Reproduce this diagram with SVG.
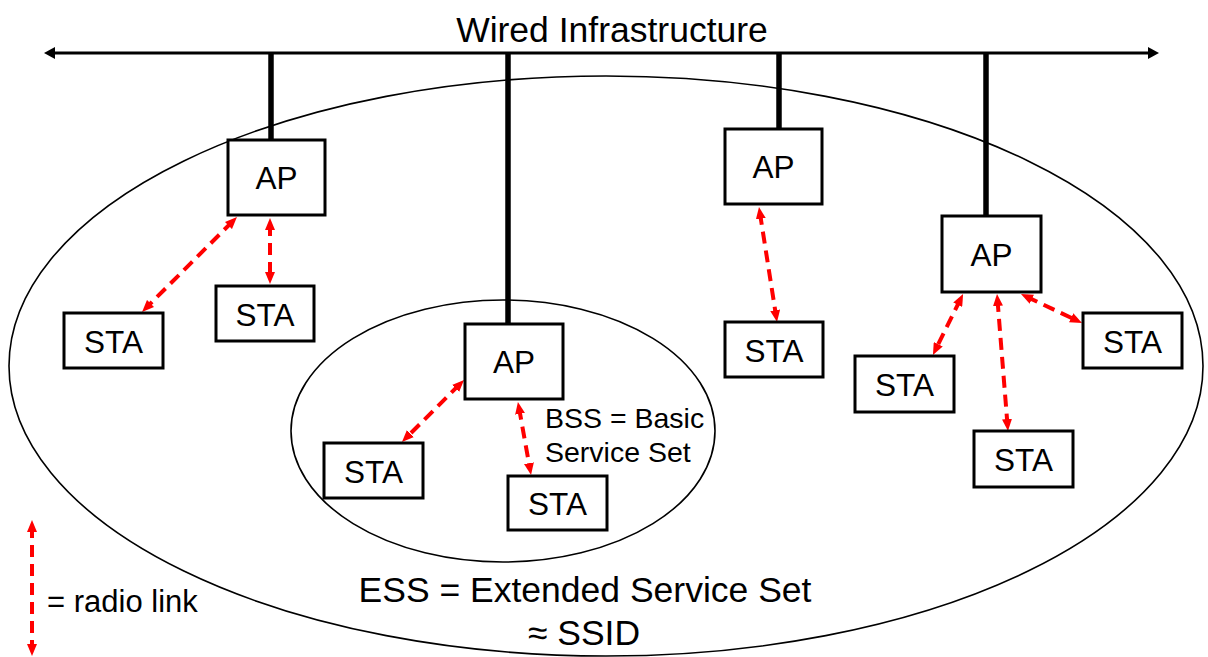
<svg xmlns="http://www.w3.org/2000/svg" width="1208" height="657" viewBox="0 0 1208 657">
<style>
text{font-family:"Liberation Sans",Arial,sans-serif;fill:#000}
.box{fill:#fff;stroke:#000;stroke-width:3}
.lbl{font-size:31.5px;text-anchor:middle}
.ell{fill:none;stroke:#000;stroke-width:1.6}
.wire{stroke:#000;stroke-width:5.5;fill:none}
.radio{stroke:#ff0000;stroke-width:4;stroke-dasharray:12,7;fill:none;marker-start:url(#rh);marker-end:url(#rh)}
</style>
<defs>
<marker id="rh" markerUnits="userSpaceOnUse" markerWidth="12" markerHeight="10" refX="6" refY="5" orient="auto-start-reverse" viewBox="0 0 12 10">
<path d="M0,0 L12,5 L0,10 z" fill="#ff0000"/>
</marker>
<marker id="bh" markerUnits="userSpaceOnUse" markerWidth="11" markerHeight="12" refX="5" refY="6" orient="auto-start-reverse" viewBox="0 0 11 12">
<path d="M0,0 L11,6 L0,12 z" fill="#000"/>
</marker>
</defs>
<rect width="1208" height="657" fill="#fff"/>
<g id="ess">
<ellipse class="ell" cx="606" cy="366" rx="597" ry="290"/>
<text x="585" y="602" font-size="35.5" text-anchor="middle">ESS = Extended Service Set</text>
<text x="584" y="645" font-size="35.5" text-anchor="middle">≈ SSID</text>
</g>
<g id="bss">
<ellipse class="ell" cx="503" cy="431" rx="212" ry="131"/>
<text x="545" y="428" font-size="28.5">BSS = Basic</text>
<text x="545" y="462" font-size="28.5">Service Set</text>
</g>
<g id="wired">
<text x="612" y="42" font-size="35.5" text-anchor="middle">Wired Infrastructure</text>
<line x1="50" y1="53" x2="1153" y2="53" stroke="#000" stroke-width="3" marker-start="url(#bh)" marker-end="url(#bh)"/>
</g>
<g id="connectors">
<line class="wire" x1="271" y1="53" x2="271" y2="140"/>
<line class="wire" x1="508" y1="53" x2="508" y2="324"/>
<line class="wire" x1="779" y1="53" x2="779" y2="129"/>
<line class="wire" x1="986" y1="53" x2="986" y2="216"/>
<line class="radio" x1="232.7" y1="221.3" x2="146.3" y2="307.7"/>
<line class="radio" x1="270" y1="224" x2="270" y2="278"/>
<line class="radio" x1="759.9" y1="212.9" x2="776.1" y2="316.1"/>
<line class="radio" x1="459.8" y1="384.2" x2="406.2" y2="437.8"/>
<line class="radio" x1="519" y1="407.9" x2="530" y2="469.1"/>
<line class="radio" x1="960.4" y1="299.4" x2="935.6" y2="349.6"/>
<line class="radio" x1="997.5" y1="300" x2="1007.5" y2="425"/>
<line class="radio" x1="1026.4" y1="296.6" x2="1076.6" y2="320.4"/>
</g>
<g id="ap1"><rect class="box" x="228" y="140" width="97" height="75"/><text class="lbl" x="276.5" y="189">AP</text></g>
<g id="ap2"><rect class="box" x="465" y="324" width="98" height="75"/><text class="lbl" x="514" y="373">AP</text></g>
<g id="ap3"><rect class="box" x="725" y="129" width="97" height="75"/><text class="lbl" x="773.5" y="178">AP</text></g>
<g id="ap4"><rect class="box" x="942" y="216" width="99" height="76"/><text class="lbl" x="991.5" y="265.5">AP</text></g>
<g id="sta1"><rect class="box" x="64" y="313" width="99" height="55"/><text class="lbl" x="113.5" y="352.5">STA</text></g>
<g id="sta2"><rect class="box" x="216" y="286" width="98" height="55"/><text class="lbl" x="265" y="325.5">STA</text></g>
<g id="sta3"><rect class="box" x="324" y="443" width="99" height="55"/><text class="lbl" x="373.5" y="482.5">STA</text></g>
<g id="sta4"><rect class="box" x="508" y="476" width="99" height="54"/><text class="lbl" x="557.5" y="515">STA</text></g>
<g id="sta5"><rect class="box" x="725" y="322" width="98" height="55"/><text class="lbl" x="774" y="361.5">STA</text></g>
<g id="sta6"><rect class="box" x="855" y="356" width="99" height="56"/><text class="lbl" x="904.5" y="396">STA</text></g>
<g id="sta7"><rect class="box" x="974" y="431" width="99" height="56"/><text class="lbl" x="1023.5" y="471">STA</text></g>
<g id="sta8"><rect class="box" x="1083" y="313" width="99" height="55"/><text class="lbl" x="1132.5" y="352.5">STA</text></g>
<g id="legend">
<line class="radio" x1="32" y1="526" x2="32" y2="650"/>
<text x="47" y="612" font-size="31">= radio link</text>
</g>
</svg>
